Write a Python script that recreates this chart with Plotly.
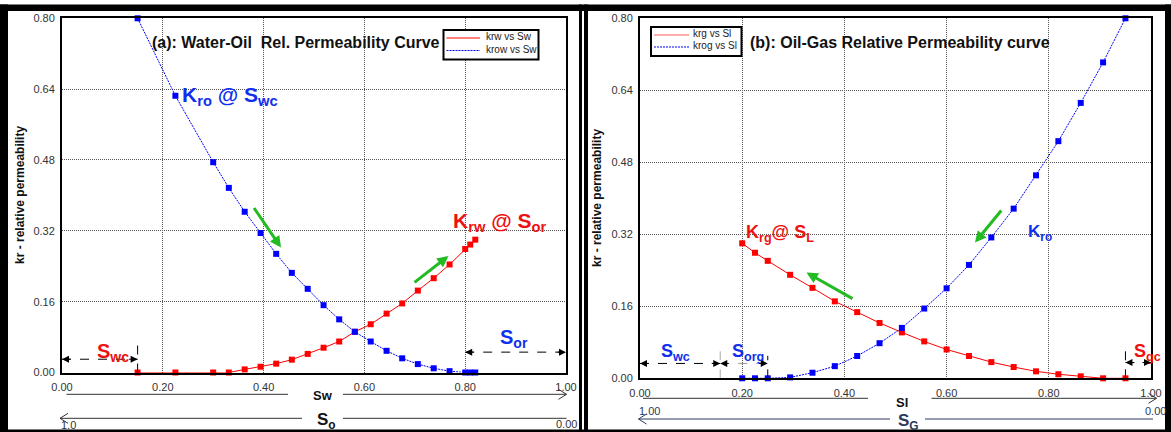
import plotly.graph_objects as go

W, H = 1171, 432
FONT = "Liberation Sans, Arial, sans-serif"

# ---- (a) water-oil system ----
sw = [0.15, 0.225, 0.30, 0.331, 0.3625, 0.394, 0.425, 0.456, 0.4875, 0.519,
      0.55, 0.581, 0.6125, 0.644, 0.675, 0.706, 0.7375, 0.769, 0.80, 0.81, 0.82]
krw = [0.0, 0.0, 0.0, 0.0, 0.007, 0.013, 0.020, 0.029, 0.042, 0.056,
       0.070, 0.092, 0.109, 0.133, 0.156, 0.185, 0.213, 0.244, 0.279, 0.289, 0.300]
krow = [0.80, 0.625, 0.475, 0.417, 0.363, 0.315, 0.268, 0.225, 0.189, 0.152,
        0.120, 0.092, 0.070, 0.049, 0.032, 0.019, 0.0095, 0.003, 0.0, 0.0, 0.0]

# ---- (b) oil-gas system ----
sl = [0.20, 0.225, 0.25, 0.29375, 0.3375, 0.38125, 0.425, 0.46875, 0.5125, 0.55625,
      0.60, 0.64375, 0.6875, 0.73125, 0.775, 0.81875, 0.8625, 0.90625, 0.95]
krg = [0.300, 0.279, 0.261, 0.230, 0.201, 0.171, 0.147, 0.123, 0.102, 0.082,
       0.064, 0.0496, 0.036, 0.025, 0.0155, 0.009, 0.0044, 0.0, 0.0]
krog = [0.0, 0.0, 0.0, 0.002, 0.0124, 0.027, 0.0496, 0.078, 0.112, 0.155,
        0.200, 0.252, 0.313, 0.377, 0.451, 0.527, 0.612, 0.702, 0.80]

# end-point saturations marked on the charts
swc_a, sor_a = 0.15, 0.80
swc_b, sorg_b, sgc_b = 0.157, 0.25, 0.95

x_ticks = [0.0, 0.2, 0.4, 0.6, 0.8, 1.0]
y_ticks = [0.0, 0.16, 0.32, 0.48, 0.64, 0.80]

# legend rows: (label, colour, dash)
legend_a = [("krw vs Sw", "#ff0000", "solid"), ("krow vs Sw", "#0000ff", "2px,1px")]
legend_b = [("krg vs Sl", "#ff5a5a", "solid"), ("krog vs Sl", "#0000ff", "2px,1px")]

RED, BLUE, GREEN = "#ff0000", "#0000ff", "#22bb22"
TXT_RED, TXT_BLUE = "#ee1111", "#1030ee"
SLATE = "#2a3a5c"


def px(x):
    return x / W


def py(y):
    return 1 - y / H


fig = go.Figure()

# data curves
fig.add_trace(go.Scatter(x=sw, y=krw, mode="lines+markers", xaxis="x", yaxis="y",
                         line=dict(color=RED, width=1),
                         marker=dict(symbol="square", size=6, color=RED),
                         cliponaxis=False, showlegend=False, name="krw vs Sw"))
fig.add_trace(go.Scatter(x=sw, y=krow, mode="lines+markers", xaxis="x", yaxis="y",
                         line=dict(color=BLUE, width=1, dash="2px,1px"),
                         marker=dict(symbol="square", size=6, color=BLUE),
                         cliponaxis=False, showlegend=False, name="krow vs Sw"))
fig.add_trace(go.Scatter(x=sl, y=krg, mode="lines+markers", xaxis="x2", yaxis="y2",
                         line=dict(color=RED, width=1),
                         marker=dict(symbol="square", size=6, color=RED),
                         cliponaxis=False, showlegend=False, name="krg vs Sl"))
fig.add_trace(go.Scatter(x=sl, y=krog, mode="lines+markers", xaxis="x2", yaxis="y2",
                         line=dict(color=BLUE, width=1, dash="2px,1px"),
                         marker=dict(symbol="square", size=6, color=BLUE),
                         cliponaxis=False, showlegend=False, name="krog vs Sl"))

axis_common = dict(
    automargin=False,
    showgrid=True, gridcolor="#555555", gridwidth=1, griddash="1px,1px",
    zeroline=False, showline=True, linecolor="black", linewidth=2, mirror=True,
    ticks="outside", ticklen=3, tickcolor="rgba(0,0,0,0)", tickformat=".2f",
    tickfont=dict(size=11, color="#333333", family=FONT),
)

fig.update_layout(
    width=W, height=H, autosize=False, showlegend=False,
    margin=dict(l=0, r=0, t=0, b=0, autoexpand=False),
    paper_bgcolor="white", plot_bgcolor="white",
    font=dict(family=FONT, size=11, color="#333333"),
    xaxis=dict(domain=[px(62), px(566)], range=[0, 1], tickvals=x_ticks,
               anchor="y", **axis_common),
    yaxis=dict(domain=[py(372.5), py(18.3)], range=[0, 0.8], tickvals=y_ticks,
               anchor="x", **axis_common),
    xaxis2=dict(domain=[px(640), px(1151)], range=[0, 1], tickvals=x_ticks,
                anchor="y2", **axis_common),
    yaxis2=dict(domain=[py(378.3), py(18.3)], range=[0, 0.8], tickvals=y_ticks,
                anchor="x2", **axis_common),
)

ann = []
shapes = []


def text(x, y, s, size, color, xanchor="left", angle=0):
    ann.append(dict(x=px(x), y=py(y), xref="paper", yref="paper", text=s,
                    showarrow=False, xanchor=xanchor, yanchor="middle",
                    textangle=angle,
                    font=dict(size=size, color=color, family=FONT)))


def head(x, y, dx, xref, yref, color="black"):
    # small filled arrow head at (x, y), tail offset dx pixels horizontally
    ann.append(dict(x=x, y=y, xref=xref, yref=yref, text="", showarrow=True,
                    ax=dx, ay=0, arrowhead=2, arrowsize=1.4, arrowwidth=1,
                    arrowcolor=color, standoff=0))


def green_arrow(tx, ty, hx, hy):
    ann.append(dict(x=px(hx), y=py(hy), xref="paper", yref="paper", text="",
                    showarrow=True, ax=tx - hx, ay=ty - hy, arrowhead=2,
                    arrowsize=0.75, arrowwidth=3, arrowcolor=GREEN, standoff=0))


def dline(x0, y0, x1, y1, xref, yref, color="black", dash="dash"):
    shapes.append(dict(type="line", x0=x0, y0=y0, x1=x1, y1=y1, xref=xref,
                       yref=yref, line=dict(color=color, width=1, dash=dash)))


def pline(x0, y0, x1, y1, color="#333333", width=1, dash="solid"):
    shapes.append(dict(type="line", x0=px(x0), y0=py(y0), x1=px(x1), y1=py(y1),
                       xref="paper", yref="paper", layer="above",
                       line=dict(color=color, width=width, dash=dash)))


def chevron(x, y, d, color="#333333"):
    # open arrow tip at (x, y); d = +1 points right, -1 points left
    pline(x - d * 8, y - 5, x, y, color)
    pline(x, y, x - d * 8, y + 5, color)


def legend_box(x0, y0, x1, y1, rows, line_x0, line_x1, text_x, row_y, size):
    shapes.append(dict(type="rect", xref="paper", yref="paper", layer="above",
                       x0=px(x0), y0=py(y0), x1=px(x1), y1=py(y1),
                       fillcolor="white", line=dict(color="black", width=2)))
    for (label, col, dash), ry in zip(rows, row_y):
        pline(line_x0, ry + 1.5, line_x1, ry + 1.5, color=col, dash=dash)
        text(text_x, ry, label, size, "#222222")


# ---- titles ----
text(150, 43, "<b>(a): Water-Oil  Rel. Permeability Curve</b>", 16, "#111111")
text(748, 43, "<b>(b): Oil-Gas Relative Permeability curve</b>", 16, "#111111")
text(20, 195, "<b>kr - relative permeability</b>", 12, "#111111",
     xanchor="center", angle=-90)
text(597, 198, "<b>kr - relative permeability</b>", 12, "#111111",
     xanchor="center", angle=-90)

# ---- legends ----
legend_box(443.5, 30, 538.5, 59.5, legend_a, 446.5, 480, 484, [36.5, 49], 10)
legend_box(651, 27, 741.5, 56, legend_b, 654, 689, 691, [33.5, 45.5], 10)

# ---- panel (a) labels ----
text(180, 96, "<b>K<sub>ro</sub> @ S<sub>wc</sub></b>", 21, TXT_BLUE)
text(451, 222, "<b>K<sub>rw</sub> @ S<sub>or</sub></b>", 21, TXT_RED)
text(95, 352, "<b>S<sub>wc</sub></b>", 20, TXT_RED)
text(498, 338, "<b>S<sub>or</sub></b>", 20, TXT_BLUE)
green_arrow(253, 206.5, 281, 247.5)
green_arrow(413, 283.5, 448.5, 256)

dline(0, 0.03, swc_a, 0.03, "x", "y")
dline(swc_a, 0, swc_a, 0.062, "x", "y")
head(0, 0.03, 10, "x", "y")
head(swc_a, 0.03, -10, "x", "y")
dline(sor_a, 0.046, 1.0, 0.046, "x", "y")
head(sor_a, 0.046, 10, "x", "y")
head(1.0, 0.046, -10, "x", "y")

# saturation axes under panel (a)
pline(66.5, 394.3, 288, 394.3)
pline(343, 394.3, 566.5, 394.3)
chevron(566.5, 394.3, 1)
text(322.5, 395, "<b>Sw</b>", 13, "#111111", xanchor="center")
pline(60, 418.3, 302, 418.3)
pline(343, 418.3, 566.5, 418.3)
chevron(60, 418.3, -1)
text(326, 420.5, "<b>S<sub>o</sub></b>", 17, "#111111", xanchor="center")
text(68, 424.5, "1.0", 11, "#333333", xanchor="center")
text(566, 423.5, "0.00", 11, "#333333", xanchor="center")

# ---- panel (b) labels ----
text(744, 233, "<b>K<sub>rg</sub>@ S<sub>L</sub></b>", 18, TXT_RED)
text(1026, 233, "<b>K<sub>ro</sub></b>", 17, TXT_BLUE)
text(659, 352, "<b>S<sub>wc</sub></b>", 18, TXT_BLUE)
text(730, 352, "<b>S<sub>org</sub></b>", 18, TXT_BLUE)
text(1131.5, 352, "<b>S<sub>gc</sub></b>", 18, TXT_RED)
green_arrow(854, 299.5, 806.5, 272.5)
green_arrow(1002.5, 209, 975, 242.5)

dline(0, 0.033, swc_b, 0.033, "x2", "y2")
head(0, 0.033, 10, "x2", "y2")
head(swc_b, 0.033, -10, "x2", "y2")
dline(swc_b, 0.033, sorg_b, 0.033, "x2", "y2", color="#9a9a9a")
head(swc_b, 0.033, 10, "x2", "y2")
head(sorg_b, 0.033, -10, "x2", "y2")
dline(swc_b, 0, swc_b, 0.064, "x2", "y2", color="#aaaaaa")
dline(sorg_b, 0, sorg_b, 0.05, "x2", "y2")
dline(sgc_b, 0.035, 1.0, 0.035, "x2", "y2")
head(sgc_b, 0.035, 10, "x2", "y2")
head(1.0, 0.035, -10, "x2", "y2")
dline(sgc_b, 0, sgc_b, 0.064, "x2", "y2")

# saturation axes under panel (b)
pline(643, 398.3, 868, 398.3)
pline(931.5, 398.3, 1156.5, 398.3)
chevron(1156.5, 398.3, 1)
text(902, 402, "<b>Sl</b>", 13, "#111111", xanchor="center")
pline(638.5, 419, 890, 419, color=SLATE)
pline(925, 419, 1153, 419, color=SLATE)
chevron(638.5, 419, -1, color=SLATE)
text(908, 421.5, "<b>S<sub>G</sub></b>", 17, SLATE, xanchor="center")
text(649, 411, "1.00", 11, SLATE, xanchor="center")
text(1155, 411, "0.00", 11, SLATE, xanchor="center")

# ---- outer frame ----
for x0, y0, x1, y1 in [(0, 4.5, W, 11), (0, 4.5, 8, H), (1165, 4.5, W, H),
                       (0, 429.5, W, H), (579, 4.5, 582, H), (584, 4.5, 588, H)]:
    shapes.append(dict(type="rect", xref="paper", yref="paper",
                       x0=px(x0), y0=py(y0), x1=px(x1), y1=py(y1),
                       fillcolor="black", line=dict(width=0), layer="above"))

fig.update_layout(annotations=ann, shapes=shapes)
fig.write_html("out.html")
